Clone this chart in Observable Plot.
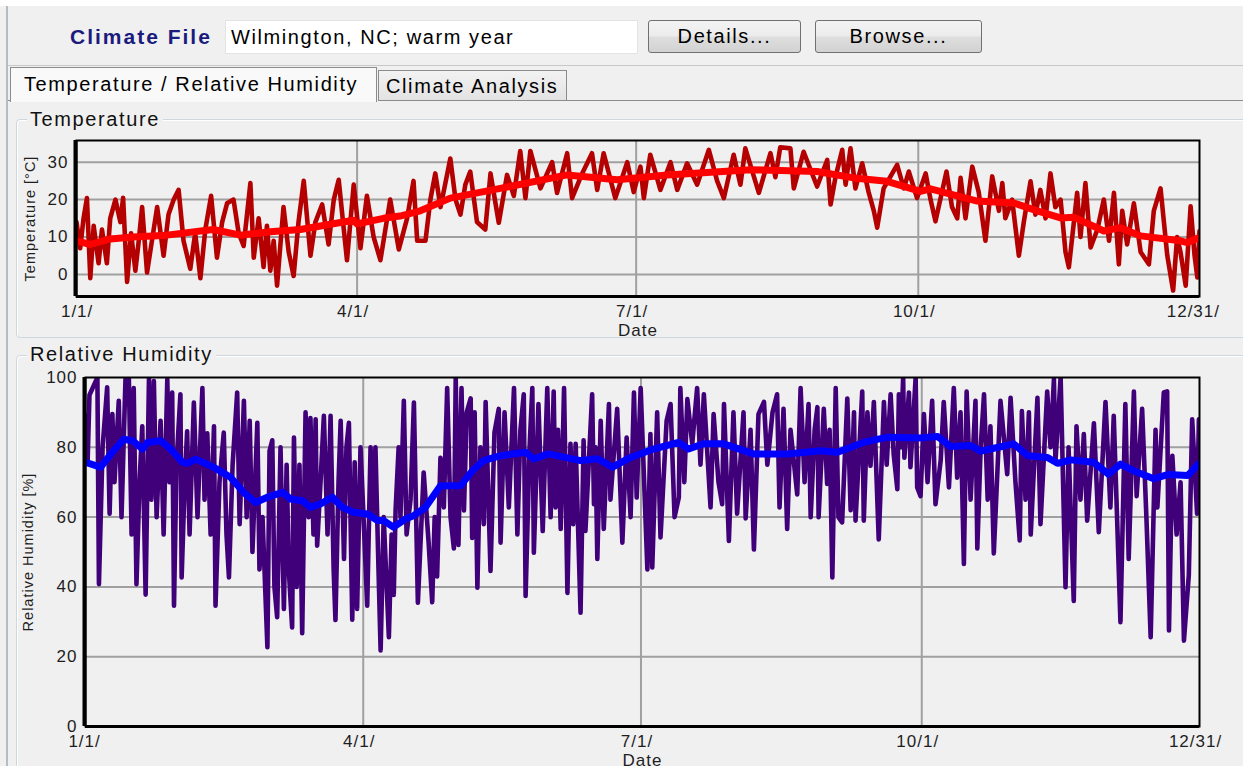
<!DOCTYPE html>
<html><head><meta charset="utf-8">
<script src="https://cdn.jsdelivr.net/npm/d3@7"></script>
<script src="https://cdn.jsdelivr.net/npm/@observablehq/plot@0.6"></script>
<style>
html,body{margin:0;padding:0;width:1243px;height:766px;overflow:hidden;background:#f0f0f0;}
#app{position:relative;width:1243px;height:766px;overflow:hidden;}
.ui{position:absolute;font-family:"Liberation Sans",Arial,sans-serif;font-size:20px;letter-spacing:1.6px;color:#111;white-space:nowrap;box-sizing:border-box;}
#topwhite{left:0;top:0;width:1243px;height:6px;background:#fff;}
#vline{left:6px;top:6px;width:2px;height:760px;background:#b3bdca;}
#cfLabel{left:70px;top:25px;font-size:21px;font-weight:bold;letter-spacing:2px;color:#1b1b7d;line-height:24px;}
#cfBox{left:225px;top:20px;width:413px;height:34px;background:#fff;border:1px solid #e3e3e3;padding-left:5px;line-height:32px;color:#000;}
.btn{top:20px;height:33px;border:1px solid #707070;border-radius:3px;background:linear-gradient(#f3f3f3,#ececec 48%,#dedede 52%,#d2d2d2);text-align:center;line-height:31px;color:#000;}
#details{left:648px;width:153px;}
#browse{left:815px;width:167px;}
#sep1{left:8px;top:65px;width:1235px;height:1px;background:#c8c8c8;}
#tab1{left:10px;top:67px;width:367px;height:35px;border:1px solid #8c8c8c;border-bottom:none;background:#f9f9f9;padding-left:13px;line-height:32px;color:#000;}
#tab2{left:378px;top:70px;width:189px;height:31px;border:1px solid #8c8c8c;background:linear-gradient(#f2f2f2,#e3e3e3);padding-left:7px;line-height:31px;color:#000;}
#tabline{left:567px;top:100px;width:676px;height:1px;background:#8c8c8c;}
#tabline2{left:8px;top:100px;width:2px;height:1px;background:#8c8c8c;}
.group{border:1px solid #cfd7de;border-radius:4px;box-shadow:inset 1px 1px 0 #fff;}
#g1{left:16px;top:119px;width:1240px;height:219px;}
#g2{left:16px;top:355px;width:1240px;height:430px;}
.gtitle{background:#f0f0f0;padding:0 3px;line-height:24px;color:#111;}
#g1t{left:27px;top:107px;}
#g2t{left:27px;top:342px;}
#tempChart{position:absolute;left:0;top:130px;}
#rhChart{position:absolute;left:0;top:367px;}
svg{overflow:visible;}
</style></head><body><div id="app">
<div class="ui" id="topwhite"></div>
<div class="ui" id="vline"></div>
<div class="ui" id="cfLabel">Climate File</div>
<div class="ui" id="cfBox">Wilmington, NC; warm year</div>
<div class="ui btn" id="details">Details...</div>
<div class="ui btn" id="browse">Browse...</div>
<div class="ui" id="sep1"></div>
<div class="ui" id="tab1">Temperature / Relative Humidity</div>
<div class="ui" id="tab2">Climate Analysis</div>
<div class="ui" id="tabline"></div>
<div class="ui" id="tabline2"></div>
<div class="ui group" id="g1"></div>
<div class="ui gtitle" id="g1t">Temperature</div>
<div class="ui group" id="g2"></div>
<div class="ui gtitle" id="g2t">Relative Humidity</div>
<div id="tempChart"></div>
<div id="rhChart"></div>
</div>
<script>
// x axis: day of year
const tickDays = [0, 90, 181, 273, 364];
const tickLabels = ["1/1/", "4/1/", "7/1/", "10/1/", "12/31/"];
const gridDays = [90, 181, 273];
const tempTicks = [0, 10, 20, 30];
const rhTicks = [0, 20, 40, 60, 80, 100];

// Temperature (hourly trace, read as peaks/troughs)
const tempDays = [
-1.5,-0.3,0.8,1.9,3.0,4.1,5.7,6.8,8.4,9.5,
11.2,12.8,13.7,15.0,16.3,17.7,18.8,19.9,21.5,23.1,
24.8,26.9,28.5,30.2,31.8,33.4,35.6,37.2,38.9,40.5,
42.4,44.3,46.0,47.6,49.7,51.4,53.0,55.2,56.3,57.9,
59.5,60.6,61.7,62.8,63.9,66.0,67.7,69.3,70.9,72.6,
74.8,76.4,78.6,80.7,82.4,84.0,86.7,88.9,91.1,93.2,
95.4,97.6,100.8,103.6,106.3,108.4,109.6,112.3,113.9,115.5,
117.2,118.2,120.4,122.1,123.7,125.3,126.9,129.1,131.8,133.5,
136.2,138.9,141.1,143.2,144.9,146.5,149.8,153.6,155.2,158.5,
160.1,163.4,166.6,168.3,170.4,174.2,178.1,180.2,182.4,183.5,
185.6,188.9,192.2,194.4,197.6,200.9,204.7,207.4,209.6,212.8,
215.0,216.6,221.0,224.8,226.4,228.0,231.3,232.4,235.6,240.0,
243.3,244.4,246.0,248.2,249.3,250.9,252.5,254.7,256.8,258.5,
259.6,261.7,266.1,268.3,269.9,272.6,275.4,277.0,278.6,282.2,
284.0,285.7,286.8,288.4,290.6,292.7,294.9,297.1,299.3,300.4,
301.4,303.6,305.8,307.4,309.6,311.2,312.8,314.5,316.1,317.7,
319.4,321.0,322.1,324.8,325.9,327.5,329.2,331.4,333.5,335.2,
336.8,338.4,339.5,341.1,343.3,345.5,348.2,349.8,352.0,354.2,
356.1,357.4,358.5,360.2,361.8,363.1,364.0,364.7];
const tempValues = [
14,7,15,20.4,-1,13,3,12,3,15,
20,14,20.5,-2,11,1,9,18,0.5,9,
18,5,16,20,22.6,9,1.5,11,-1,12,
21,4.5,14,19,20,11,7.6,24.4,4.5,15,
2,13,1,9,-3,18,6,-0.4,14,25,
5,14,18.7,8,20,25.3,3.8,24,7,21,
10,3.8,20,6.7,15,25,9,9,20,27,
18,22,31,20,16,24,27.5,14,12,27,
13.8,26.6,21,33,20.4,33,23,30,21.8,32.4,
20.4,27,32.4,22.6,32.4,20.4,30,22,28.8,20.4,
32,22.6,30,22.6,29.7,24,33.3,25,20.4,32,
24,33.7,21.8,32.4,26,34,33.7,23,32.8,23.5,
30.6,18.7,26,33.3,24,33.7,23,29.7,22,17,
12.5,23,29.3,23,27.5,20.4,27,20,14.2,27.5,
18,15,25.8,15,28.8,22,9,26.2,17,24.4,
15,20,5,14,24.9,16,22.6,15,27,18,
20,6,1.9,21.8,10,24.4,7.2,12,20,9,
21.8,2.7,17,8,19,6,2.7,17,23,5,
-4.3,10,6,-3,18.2,5,-0.8,11.6];

// Temperature moving average
const tempAvgDays = [-1.5,3,9.5,17,28,43,52,62.7,71.5,88.8,90,98.6,104,110.6,120.4,136.7,158.5,174.8,191.1,218.3,240,251.9,262.8,273.7,277,292.2,304.1,311.8,319.4,323.7,333.5,338.9,345.5,358.5,360.7,364.4];
const tempAvgValues = [9,8,9.5,10,10.5,12,10.5,11.5,12,14.5,13.5,15,15.6,17,20.4,23,26.6,25.3,26.6,28,27.5,25.8,24.9,22.2,22.9,19.6,19.1,17,15.1,15.3,11.6,12.5,10.3,9,8.5,9.8];

// Relative humidity (hourly trace, read as peaks/troughs)
const rhDays = [
-1.0,-0.3,0.3,1.2,2.9,3.4,4.6,6.1,6.9,7.8,
8.5,9.9,10.8,12.1,13.2,14.1,14.8,15.7,16.7,17.6,
18.7,19.8,20.6,21.4,22.3,23.6,24.6,25.8,26.5,27.4,
28.0,28.8,30.1,30.5,31.5,32.3,33.1,34.5,35.7,37.3,
38.0,38.9,40.0,41.1,41.6,42.9,44.3,45.2,46.0,47.2,
48.7,49.5,50.9,51.8,52.8,53.7,55.3,56.0,57.0,58.6,
59.3,60.2,60.9,61.8,62.9,64.0,64.9,65.6,66.7,67.3,
68.2,69.1,70.0,71.1,72.1,72.7,73.7,74.4,74.9,76.0,
77.1,78.3,79.3,80.3,80.9,81.9,82.6,83.7,84.5,85.3,
86.4,87.2,88.0,89.1,90.1,91.3,92.4,93.1,94.0,95.0,
95.7,96.7,98.4,99.3,100.0,100.6,101.6,102.2,103.3,104.2,
105.5,106.6,107.9,109.8,111.4,112.6,113.4,114.2,115.3,116.4,
117.5,118.6,119.7,120.3,121.2,122.2,123.0,123.9,125.2,125.7,
126.5,127.4,128.4,129.5,130.1,131.7,133.0,134.4,135.0,136.3,
137.7,139.4,140.5,141.5,142.6,143.2,144.5,145.4,145.9,147.4,
148.8,150.3,151.4,152.4,153.0,153.8,154.7,155.8,156.9,157.9,
158.8,159.6,161.2,162.2,162.8,165.0,165.6,166.1,166.7,167.8,
168.8,170.5,171.0,173.2,174.9,176.3,177.6,178.7,179.6,180.9,
183.1,184.1,184.7,186.3,187.4,189.4,190.7,192.0,193.4,193.9,
195.2,196.2,197.8,199.4,200.5,201.6,203.8,204.8,206.4,207.6,
208.2,209.8,211.3,212.5,214.6,215.3,216.9,218.0,219.5,221.3,
222.4,224.1,225.6,226.4,227.7,228.9,230.0,232.2,233.3,234.6,
235.9,236.6,237.9,238.8,239.2,240.9,242.0,242.8,243.7,244.8,
245.7,246.9,248.6,249.7,250.8,251.3,253.5,254.0,255.2,256.2,
257.3,258.9,260.6,261.5,262.8,263.8,265.0,265.5,266.1,266.9,
267.3,268.8,269.3,271.0,271.5,272.6,273.7,274.9,276.4,277.5,
279.2,280.2,281.9,283.5,284.6,285.7,286.8,287.7,289.0,290.6,
291.2,292.3,293.4,294.6,295.5,296.6,298.8,301.0,302.1,303.7,
305.1,305.8,307.0,308.1,308.7,310.9,311.9,314.1,315.2,316.3,
316.8,318.5,320.1,321.1,322.8,323.7,325.0,326.1,327.2,329.4,
331.0,333.2,334.8,335.9,336.8,338.1,339.7,340.8,342.5,343.4,
345.2,346.6,348.0,349.6,350.2,352.3,353.4,354.0,355.1,356.5,
357.8,358.9,360.5,361.6,363.2,363.8];
const rhValues = [
89,76,95,96.7,100,40.8,80,97.2,61,89.5,
70,93.3,60,99.5,100,55,97,40.8,70,86,
37.8,100,65,99,60,87.6,55,99.5,70,95.7,
34.6,75,95.2,42.7,70,84.6,55,92.8,60,97,
65,84,55,86,34.6,70,84.2,55,42.7,75,
95.7,58,93.3,60,87.6,50,87,45,60,22.7,
79,82,40,31.3,80,33.7,75,45,28.4,82.8,
40,75,26.7,90,60,88.4,55,88,51.8,70,
89,55,89,45,30.5,70,87.6,48,80,87,
30.6,75.7,33.7,80,60,34.6,80,60,80,45,
21.8,60,25.6,55,37.7,62,80,60,93.3,55,
65,92.8,35.5,72.8,53,35.6,60,43,77,62.8,
97,60,51,100,52,97,61.9,90,94,54,
90,39.8,80,58,93,44.6,84.3,91,52.7,90,
62.8,97,55,85,95.2,37.4,80,97,49.8,92.4,
56,97,60,96,62.8,85,56.6,97,38.3,81,
58,81,32.6,82,56,95.2,63.7,80,48,87.6,
56.6,92.4,65,91,52.7,82.8,60,95.7,65.6,97,
45,83.8,45.6,90,54.2,87.6,92.4,60,65.6,97,
70,93.8,81,97,75,95.2,62.8,89.5,70,63.7,
92.4,53.2,90,61,90,59.6,85,50.7,89.5,93,
75,90,95.2,62.8,91,56.6,85,66.5,97,70,
92.4,60,85,91.5,60,91,69.5,85,42.7,97,
60,58.5,94,62,90,59,96,59,90,74.7,
93,53.6,93,75,95.2,78,68,95.2,80,100,
77,95.7,74.3,100,68.5,66,89.5,70,93.3,63.7,
76.2,93,68.5,97,71.3,90,46.6,96,65,93.3,
51,80,95.2,65,86,49.6,93.3,72.3,94.2,70,
53.3,90.4,65,90,55,94.2,58,96,80,99.5,
76,100,39.9,80,36,86,65,83.8,59,86.9,
55.7,93,62.8,89,65,29.9,92.4,48,96,66,
91,60,25.6,85,62.8,95.7,96,27.5,77.6,55,
70,24.6,43.4,88,61,88];

// Relative humidity moving average
const rhAvgDays = [-1.0,3.9,8.2,11.5,14.4,17.7,19.3,23.6,26.9,30.8,32.4,35.1,41.0,46.5,50.8,54.7,58.6,63.6,66.2,70.1,72.7,76.0,79.9,83.2,86.8,91.4,94.7,96.7,99.9,103.9,106.5,110.4,115.3,121.9,125.8,129.4,135.0,143.2,145.8,150.7,161.2,166.8,171.7,177.6,185.1,193.3,196.6,201.5,208.1,217.9,229.0,239.8,245.4,253.9,261.8,272.6,278.2,282.4,289.0,292.3,295.5,303.1,307.7,314.2,317.5,321.8,329.3,334.2,338.1,342.4,349.0,353.6,360.1,363.7];
const rhAvgValues = [75.7,74.3,79,82.3,81.9,79.5,81.4,81.9,79.5,75.7,75.4,76.6,74.3,71.4,67.1,64.2,65.7,67.1,65.2,64.7,62.8,63.8,65.7,62.8,61.4,60.9,59,59,57.1,59.5,60.4,62.8,69,69,73.3,76.2,77.6,78.6,76.7,78.1,76.2,76.7,74.3,77.1,79.5,81.4,79.5,81,81,78.1,78.1,79,78.6,81.4,82.9,82.7,83.1,80.2,80.5,78.9,79.5,81,77.6,77.1,75.4,76.4,75.7,72.3,75.2,73.3,71,72.2,71.9,75.2];

const zip = (xs, ys) => xs.map((d, i) => ({day: d, value: ys[i]}));
const labelOf = new Map(tickDays.map((d, i) => [d, tickLabels[i]]));
const baseStyle = {background: "transparent", fontFamily: "'Liberation Sans', Arial, sans-serif", fontSize: "17px", color: "#1e1e1e", letterSpacing: "1px"};
const gridStyle = {stroke: "#a0a0a0", strokeOpacity: 1, strokeWidth: 2};

function chart({height, marginLeft, marginBottom, xDomain, yDomain, yTicks, yGrid, trace, avg, traceColor, avgColor, ylabel, ylabelDx}) {
  return Plot.plot({
    width: 1243, height,
    marginTop: 10, marginBottom, marginLeft, marginRight: 44,
    style: baseStyle,
    x: {domain: xDomain},
    y: {domain: yDomain},
    marks: [
      Plot.gridY(yGrid, gridStyle),
      Plot.gridX(gridDays, gridStyle),
      Plot.line(trace, {x: "day", y: "value", stroke: traceColor, strokeWidth: 4.6, curve: "linear", strokeLinejoin: "round", strokeLinecap: "round", clip: true}),
      Plot.line(avg, {x: "day", y: "value", stroke: avgColor, strokeWidth: 7, strokeLinejoin: "round", clip: true}),
      Plot.frame({stroke: "#000", strokeWidth: 2}),
      Plot.ruleX([xDomain[0]], {stroke: "#000", strokeWidth: 4, dx: -1}),
      Plot.ruleY([yDomain[0]], {stroke: "#000", strokeWidth: 3}),
      Plot.axisY(yTicks, {tickSize: 0, tickPadding: 8, label: null}),
      Plot.axisX(tickDays, {tickSize: 0, tickPadding: 8, label: null, tickFormat: d => labelOf.get(d), dx: -4}),
      Plot.text([ylabel], {frameAnchor: "left", textAnchor: "middle", lineAnchor: "middle", rotate: -90, dx: ylabelDx, fontSize: 14.5}),
      Plot.text(["Date"], {frameAnchor: "bottom", lineAnchor: "middle", dy: 34})
    ]
  });
}

document.getElementById("tempChart").appendChild(chart({
  height: 215, marginLeft: 76, marginBottom: 49,
  xDomain: [-1.5, 364.7], yDomain: [-5.9, 35.8],
  yTicks: tempTicks, yGrid: tempTicks,
  trace: zip(tempDays, tempValues), avg: zip(tempAvgDays, tempAvgValues),
  traceColor: "#b40000", avgColor: "#ff0000",
  ylabel: "Temperature [°C]", ylabelDx: -46
}));

document.getElementById("rhChart").appendChild(chart({
  height: 399, marginLeft: 85, marginBottom: 40,
  xDomain: [-1.0, 364.0], yDomain: [0, 100],
  yTicks: rhTicks, yGrid: rhTicks.filter(t => t > 0 && t < 100),
  trace: zip(rhDays, rhValues), avg: zip(rhAvgDays, rhAvgValues),
  traceColor: "#40007a", avgColor: "#0000ff",
  ylabel: "Relative Humidity [%]", ylabelDx: -57
}));
</script>
</body></html>
